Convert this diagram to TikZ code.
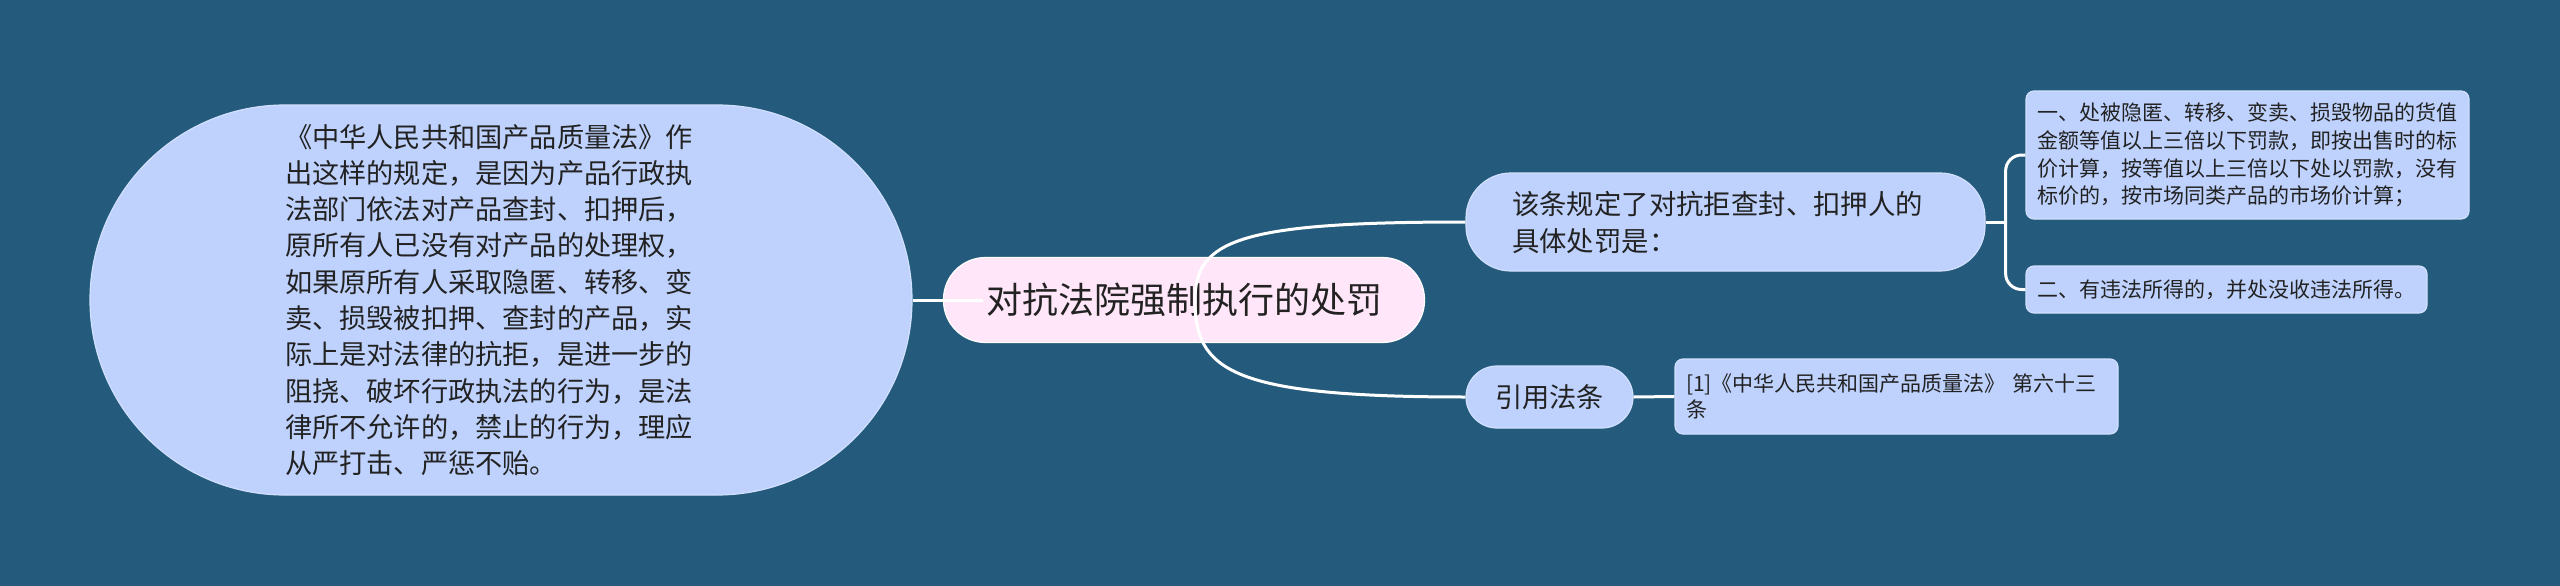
\documentclass[tikz,border=0pt]{standalone}
\usepackage{fontspec}
\setmainfont{Noto Sans CJK SC}
\usepackage{xcolor}
\definecolor{bgblue}{HTML}{245A7B}
\definecolor{nodeblue}{HTML}{BED2FD}
\definecolor{rimblue}{HTML}{D2E0FF}
\definecolor{rootpink}{HTML}{FFE6F8}
\definecolor{inkgray}{HTML}{222222}

\begin{document}
\begin{tikzpicture}[x=1pt,y=-1pt]
  \tikzstyle{every node}=[inner sep=0pt,text=inkgray,align=left]
  \tikzstyle{topic}=[fill=nodeblue,draw=rimblue,line width=1.2pt]
  \tikzstyle{bigtext}=[font=\fontsize{27.2}{36.3}\selectfont]
  \tikzstyle{leaftext}=[font=\fontsize{21}{27.6}\selectfont]
  \tikzstyle{link}=[draw=white,line width=3pt]
  \fill[bgblue] (0,0) rectangle (2560,586);
  \useasboundingbox (0,0) rectangle (2560,586);
  \node[topic,bigtext,minimum width=822pt,minimum height=390pt,rounded corners=195pt,text width=432pt] (detail) at (501,300)
    {《中华人民共和国产品质量法》作\\出这样的规定，是因为产品行政执\\法部门依法对产品查封、扣押后，\\原所有人已没有对产品的处理权，\\如果原所有人采取隐匿、转移、变\\卖、损毁被扣押、查封的产品，实\\际上是对法律的抗拒，是进一步的\\阻挠、破坏行政执法的行为，是法\\律所不允许的，禁止的行为，理应\\从严打击、严惩不贻。};
  \node[topic,fill=rootpink,draw=white,minimum width=481pt,minimum height=85pt,rounded corners=42pt,font=\fontsize{36}{44}\selectfont] (root) at (1184,300) {对抗法院强制执行的处罚};
  \node[topic,font=\fontsize{27.4}{37}\selectfont,minimum width=519pt,minimum height=98pt,rounded corners=45pt,text width=427pt] (b1) at (1725.5,222)
    {该条规定了对抗拒查封、扣押人的\\具体处罚是：};
  \node[topic,bigtext,minimum width=167pt,minimum height=62pt,rounded corners=31pt,align=center] (b2) at (1549.5,397) {引用法条};
  \node[topic,leaftext,minimum width=443pt,minimum height=128pt,rounded corners=8pt,text width=421pt] (l1) at (2247.5,155)
    {一、处被隐匿、转移、变卖、损毁物品的货值\\金额等值以上三倍以下罚款，即按出售时的标\\价计算，按等值以上三倍以下处以罚款，没有\\标价的，按市场同类产品的市场价计算；};
  \node[topic,leaftext,minimum width=401pt,minimum height=47pt,rounded corners=8pt,text width=379pt] (l2) at (2226.5,289.5)
    {二、有违法所得的，并处没收违法所得。};
  \node[topic,leaftext,minimum width=443pt,minimum height=75pt,rounded corners=8pt,text width=421pt,font=\fontsize{21}{25.5}\selectfont] (l3) at (1896.5,396.5)
    {[1]《中华人民共和国产品质量法》 第六十三\\条};
  \draw[link] ([xshift=40pt]root.west) -- (detail.east);
  \draw[link] ([xshift=11pt]root.center) .. controls +(0,-60) and +(-226,0) .. (b1.west);
  \draw[link] ([xshift=11pt]root.center) .. controls +(0,70) and +(-236,0) .. (b2.west);
  \draw[link] (b1.east) -- ++(20,0) coordinate (fork);
  \draw[link,rounded corners=16pt] (fork) |- (l1.west);
  \draw[link,rounded corners=16pt] (fork) |- (l2.west);
  \draw[link] (b2.east) -- (l3.west);
\end{tikzpicture}
\end{document}
